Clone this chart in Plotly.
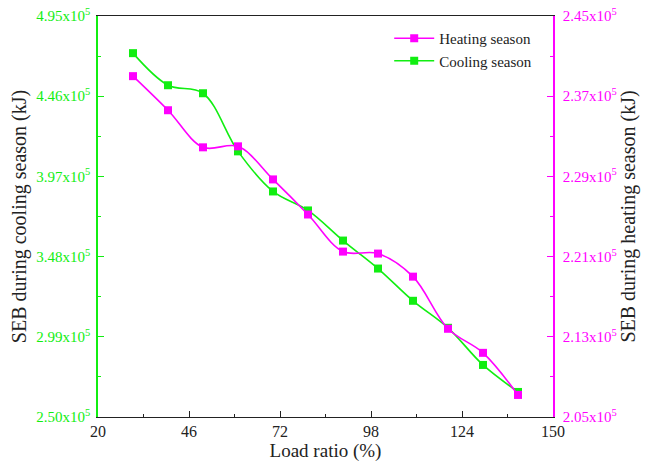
import plotly.graph_objects as go

load_ratio = [30, 40, 50, 60, 70, 80, 90, 100, 110, 120, 130, 140]
cooling_seb = [4.723e5, 4.527e5, 4.478e5, 4.123e5, 3.878e5, 3.762e5, 3.578e5, 3.407e5, 3.210e5, 3.045e5, 2.818e5, 2.653e5]
heating_seb = [2.390e5, 2.356e5, 2.319e5, 2.320e5, 2.287e5, 2.252e5, 2.215e5, 2.213e5, 2.190e5, 2.138e5, 2.114e5, 2.072e5]

left_ticks = [2.50e5, 2.99e5, 3.48e5, 3.97e5, 4.46e5, 4.95e5]
left_labels = ["2.50x10<sup>5</sup>", "2.99x10<sup>5</sup>", "3.48x10<sup>5</sup>",
               "3.97x10<sup>5</sup>", "4.46x10<sup>5</sup>", "4.95x10<sup>5</sup>"]
right_ticks = [2.05e5, 2.13e5, 2.21e5, 2.29e5, 2.37e5, 2.45e5]
right_labels = ["2.05x10<sup>5</sup>", "2.13x10<sup>5</sup>", "2.21x10<sup>5</sup>",
                "2.29x10<sup>5</sup>", "2.37x10<sup>5</sup>", "2.45x10<sup>5</sup>"]
x_ticks = [20, 46, 72, 98, 124, 150]

GREEN = "#11EE11"
MAGENTA = "#FF00FF"
FONT = "Liberation Serif"
DARK = "#222222"

fig = go.Figure()
fig.add_trace(go.Scatter(
    x=load_ratio, y=heating_seb, name="Heating season", yaxis="y2",
    mode="lines+markers", line=dict(color=MAGENTA, width=1.6, shape="spline", smoothing=1.0),
    marker=dict(symbol="square", size=8, color=MAGENTA)))
fig.add_trace(go.Scatter(
    x=load_ratio, y=cooling_seb, name="Cooling season", yaxis="y",
    mode="lines+markers", line=dict(color=GREEN, width=1.6, shape="spline", smoothing=1.0),
    marker=dict(symbol="square", size=8, color=GREEN)))

left_minor = [(left_ticks[i] + left_ticks[i + 1]) / 2 for i in range(len(left_ticks) - 1)]
right_minor = [(right_ticks[i] + right_ticks[i + 1]) / 2 for i in range(len(right_ticks) - 1)]
x_minor = [(x_ticks[i] + x_ticks[i + 1]) / 2 for i in range(len(x_ticks) - 1)]

fig.update_layout(
    width=649, height=466,
    margin=dict(l=98, r=96, t=16, b=49),
    paper_bgcolor="white", plot_bgcolor="white",
    font=dict(family=FONT, size=15, color=DARK),
    showlegend=True,
    legend=dict(x=0.64, y=0.985, xanchor="left", yanchor="top",
                bgcolor="rgba(255,255,255,0)", font=dict(family=FONT, size=15, color=DARK),
                itemwidth=40, tracegroupgap=0),
    xaxis=dict(range=[20, 150], tickmode="array", tickvals=x_ticks, automargin=False,
               ticks="inside", ticklen=6, tickcolor=DARK,
               minor=dict(tickmode="array", tickvals=x_minor, ticks="inside", ticklen=3, tickcolor=DARK),
               showline=True, linecolor=DARK, linewidth=1.2, mirror=True,
               showgrid=False, zeroline=False,
               tickfont=dict(family=FONT, size=16, color=DARK),
               title=dict(text="Load ratio (%)", font=dict(family=FONT, size=19, color=DARK), standoff=0)),
    yaxis=dict(range=[2.50e5, 4.95e5], tickmode="array", tickvals=left_ticks, ticktext=left_labels,
               automargin=False, ticklabelstandoff=3,
               ticks="inside", ticklen=6, tickcolor=GREEN,
               minor=dict(tickmode="array", tickvals=left_minor, ticks="inside", ticklen=3, tickcolor=GREEN),
               showline=True, linecolor=GREEN, linewidth=1.5,
               showgrid=False, zeroline=False,
               tickfont=dict(family=FONT, size=15, color=GREEN),
               title=dict(text="SEB during cooling season (kJ)", font=dict(family=FONT, size=20, color=DARK), standoff=4)),
    yaxis2=dict(range=[2.05e5, 2.45e5], overlaying="y", side="right", anchor="x", automargin=False,
                ticklabelstandoff=5,
                tickmode="array", tickvals=right_ticks, ticktext=right_labels,
                ticks="inside", ticklen=6, tickcolor=MAGENTA,
                minor=dict(tickmode="array", tickvals=right_minor, ticks="inside", ticklen=3, tickcolor=MAGENTA),
                showline=True, linecolor=MAGENTA, linewidth=1.5,
                showgrid=False, zeroline=False,
                tickfont=dict(family=FONT, size=15, color=MAGENTA),
                title=dict(text="SEB during heating season (kJ)", font=dict(family=FONT, size=20, color=DARK), standoff=4)),
)

fig.write_html("out.html", post_script="document.body.style.margin='0';",
               config={"displayModeBar": False})
